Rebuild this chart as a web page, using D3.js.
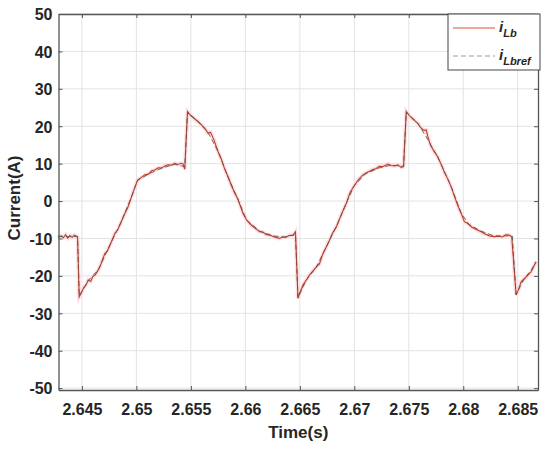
<!DOCTYPE html>
<html>
<head>
<meta charset="utf-8">
<script src="https://cdn.jsdelivr.net/npm/d3@7"></script>
<style>
  body { margin: 0; background: #fff; }
  svg text { font-family: "Liberation Sans", Arial, sans-serif; font-weight: bold; fill: #262626; }
</style>
</head>
<body>
<div id="chart"></div>
<script>
// measured inductor current i_Lb (s, A)
const timeLb = [
  2.6428, 2.6431, 2.6433, 2.6435, 2.6437, 2.6439, 2.6441, 2.6443, 2.6445, 2.6446,
  2.64475, 2.6450, 2.6452, 2.6454, 2.64558, 2.6458, 2.6460, 2.6462, 2.6465, 2.6467,
  2.6469, 2.64711, 2.6473, 2.6476, 2.64803, 2.6483, 2.6486, 2.64894, 2.6492, 2.64956,
  2.6498, 2.65011, 2.6504, 2.65078, 2.6511, 2.6514, 2.65169, 2.6520, 2.6523, 2.65261,
  2.6529, 2.6532, 2.65353, 2.6538, 2.6541, 2.65429, 2.65444, 2.65469, 2.6549, 2.6551,
  2.65567, 2.6560, 2.6563, 2.65658, 2.6568, 2.6571, 2.6573, 2.6575, 2.6578, 2.6581,
  2.65841, 2.6587, 2.65903, 2.6593, 2.65979, 2.6601, 2.6604, 2.6607, 2.6610, 2.66132,
  2.6616, 2.6619, 2.66224, 2.6625, 2.6628, 2.66315, 2.6634, 2.6637, 2.6640, 2.66437,
  2.6646, 2.66483, 2.6650, 2.6653, 2.6656, 2.6659, 2.66652, 2.6668, 2.6671, 2.66744,
  2.6677, 2.6680, 2.66835, 2.6686, 2.6689, 2.66927, 2.6696, 2.67003, 2.6704, 2.6708,
  2.6711, 2.6714, 2.6717, 2.67202, 2.6723, 2.6726, 2.67308, 2.6734, 2.6737, 2.6740,
  2.6743, 2.67452, 2.67477, 2.6750, 2.6753, 2.67583, 2.6761, 2.6764, 2.6766, 2.67675,
  2.6770, 2.6773, 2.67767, 2.6780, 2.6783, 2.6786, 2.67889, 2.6792, 2.6795, 2.67981,
  2.6801, 2.68042, 2.6808, 2.6812, 2.68164, 2.6820, 2.6824, 2.68287, 2.6832, 2.6836,
  2.6839, 2.68424, 2.68445, 2.68485, 2.6851, 2.68531, 2.6857, 2.6860, 2.68623, 2.6865,
  2.68668
];
const iLb = [
  -9.6, -9.3, -9.8, -9.0, -9.9, -9.2, -9.7, -9.1, -9.4, -9.6,
  -25.6, -24.2, -23.0, -22.3, -21.1, -21.5, -20.2, -19.8, -18.4, -17.2,
  -15.6, -14.0, -13.5, -11.6, -8.6, -7.6, -5.6, -3.3, -1.8, 1.2,
  3.2, 5.6, 6.2, 7.0, 7.2, 8.1, 8.3, 8.9, 8.8, 9.4,
  9.7, 9.6, 10.1, 9.8, 10.1, 9.9, 8.5, 23.9, 23.1, 22.6,
  21.2, 20.3, 19.4, 18.1, 18.4, 16.5, 14.8, 13.2, 11.2, 8.6,
  6.5, 4.3, 2.1, 0.6, -3.3, -5.0, -6.0, -6.8, -7.5, -8.2,
  -8.3, -8.9, -9.1, -9.4, -9.7, -10.0, -9.6, -9.7, -9.2, -9.1,
  -8.2, -26.0, -24.5, -22.4, -21.1, -19.7, -17.6, -16.8, -14.2, -12.2,
  -10.6, -8.6, -6.9, -5.1, -3.0, -0.6, 2.2, 4.3, 5.8, 7.0,
  7.6, 8.0, 8.4, 8.7, 9.3, 9.2, 9.9, 9.5, 9.4, 9.7,
  9.0, 9.2, 23.9, 23.0, 22.1, 20.8, 19.6, 18.9, 19.0, 17.2,
  14.9, 13.4, 11.8, 9.6, 7.5, 5.8, 3.8, 1.2, -1.2, -3.3,
  -5.5, -6.0, -7.0, -7.6, -8.2, -8.8, -9.3, -9.5, -9.4, -9.6,
  -9.0, -9.1, -9.6, -25.1, -23.4, -21.6, -20.5, -19.6, -18.9, -17.3,
  -16.2
];

// reference current i_Lbref (s, A)
const timeRef = [
  2.6428, 2.6446, 2.64475, 2.6456, 2.6465, 2.6476, 2.6486, 2.6495, 2.6501, 2.6511,
  2.6523, 2.6535, 2.65444, 2.65469, 2.6557, 2.6566, 2.6575, 2.6584, 2.6593, 2.6601,
  2.6613, 2.6625, 2.6636, 2.6646, 2.66483, 2.6656, 2.6665, 2.6675, 2.6684, 2.6693,
  2.6700, 2.6710, 2.6722, 2.6734, 2.67452, 2.67477, 2.6758, 2.6768, 2.6778, 2.6789,
  2.6798, 2.6805, 2.6816, 2.6828, 2.6842, 2.68450, 2.68485, 2.6856, 2.6862, 2.68668
];
const iLbref = [
  -9.5, -9.5, -25.4, -21.2, -18.4, -11.6, -5.6, 0.8, 5.5, 7.2,
  8.8, 9.8, 9.2, 23.8, 21.1, 18.2, 13.2, 6.5, 0.6, -5.0,
  -8.0, -9.3, -9.6, -9.0, -25.8, -21.1, -17.7, -11.8, -6.5, -0.3,
  4.1, 7.2, 8.8, 9.6, 9.3, 23.8, 20.9, 16.2, 10.9, 3.8,
  -3.2, -6.2, -8.0, -9.3, -9.3, -9.4, -25.0, -20.7, -18.6, -16.3
];

const yTicks = [50, 40, 30, 20, 10, 0, -10, -20, -30, -40, -50];
const xTicks = [2.645, 2.65, 2.655, 2.66, 2.665, 2.67, 2.675, 2.68, 2.685];
const xTickLabels = ['2.645', '2.65', '2.655', '2.66', '2.665', '2.67', '2.675', '2.68', '2.685'];

const W = 550, H = 450;
const plotL = 58.5, plotR = 538, plotT = 14, plotB = 390;

const svg = d3.select('#chart').append('svg')
  .attr('width', W).attr('height', H);

const x = d3.scaleLinear().domain([2.64285, 2.68686]).range([plotL, plotR]);
const y = d3.scaleLinear().domain([-50.5, 50]).range([plotB, plotT]);

// ── grid ────────────────────────────────────────────────────────────────
const grid = svg.append('g').attr('stroke', '#e3e3e3').attr('stroke-width', 1);
grid.selectAll('.gx').data(xTicks).join('line')
  .attr('x1', d => x(d)).attr('x2', d => x(d))
  .attr('y1', plotT).attr('y2', plotB);
grid.selectAll('.gy').data(yTicks).join('line')
  .attr('x1', plotL).attr('x2', plotR)
  .attr('y1', d => y(d)).attr('y2', d => y(d));

// ── curves ──────────────────────────────────────────────────────────────
const lineGen = d3.line().x(d => x(d[0])).y(d => y(d[1]));
const lbPts = timeLb.map((t, i) => [t, iLb[i]]);

// faint pink halo seen around the measured trace
svg.append('path')
  .datum(lbPts)
  .attr('fill', 'none')
  .attr('stroke', '#fbd3dc')
  .attr('stroke-width', 4)
  .attr('stroke-opacity', 0.7)
  .attr('d', lineGen);

svg.append('path')
  .datum(lbPts)
  .attr('fill', 'none')
  .attr('stroke', '#c63a22')
  .attr('stroke-width', 1.1)
  .attr('d', lineGen);

svg.append('path')
  .datum(timeRef.map((t, i) => [t, iLbref[i]]))
  .attr('fill', 'none')
  .attr('stroke', '#5c5a4c')
  .attr('stroke-width', 1)
  .attr('stroke-dasharray', '5,3')
  .attr('stroke-opacity', 0.9)
  .attr('d', lineGen);

// ── axes (box with inward ticks) ────────────────────────────────────────
const axisColor = '#555';
const xb = svg.append('g').attr('transform', `translate(0,${plotB})`)
  .call(d3.axisBottom(x).tickValues(xTicks).tickSizeInner(-4).tickSizeOuter(0)
    .tickFormat((d, i) => xTickLabels[i]));
const xt = svg.append('g').attr('transform', `translate(0,${plotT})`)
  .call(d3.axisTop(x).tickValues(xTicks).tickSizeInner(-4).tickSizeOuter(0).tickFormat(''));
const yl = svg.append('g').attr('transform', `translate(${plotL},0)`)
  .call(d3.axisLeft(y).tickValues(yTicks).tickSizeInner(-4).tickSizeOuter(0)
    .tickFormat(d => String(d)));
const yr = svg.append('g').attr('transform', `translate(${plotR},0)`)
  .call(d3.axisRight(y).tickValues(yTicks).tickSizeInner(-4).tickSizeOuter(0).tickFormat(''));

[xb, xt, yl, yr].forEach(a => {
  a.selectAll('path').attr('stroke', axisColor).attr('stroke-width', 1.3);
  a.selectAll('line').attr('stroke', axisColor);
  a.selectAll('text').attr('font-size', 16).attr('font-family', null).attr('fill', '#262626');
});
xb.selectAll('text').attr('dy', null).attr('y', 25);
yl.selectAll('text').attr('x', -6).attr('dy', '0.36em');

// ── axis titles ─────────────────────────────────────────────────────────
svg.append('text')
  .attr('x', (plotL + plotR) / 2).attr('y', 438)
  .attr('text-anchor', 'middle').attr('font-size', 17)
  .text('Time(s)');

svg.append('text')
  .attr('transform', 'translate(20,198) rotate(-90)')
  .attr('text-anchor', 'middle').attr('font-size', 17)
  .text('Current(A)');

// ── legend ──────────────────────────────────────────────────────────────
const lg = svg.append('g');
lg.append('rect')
  .attr('x', 448).attr('y', 14).attr('width', 92).attr('height', 56)
  .attr('fill', '#fff').attr('stroke', '#444').attr('stroke-width', 1);

const legendItems = [
  { sub: 'Lb', color: '#e0502c', dash: null, y: 28 },
  { sub: 'Lbref', color: '#9a9a9a', dash: '5,3', y: 56 },
];
legendItems.forEach(it => {
  lg.append('line')
    .attr('x1', 453).attr('x2', 495).attr('y1', it.y).attr('y2', it.y)
    .attr('stroke', it.color).attr('stroke-width', 1)
    .attr('stroke-dasharray', it.dash);
  const t = lg.append('text').attr('x', 499).attr('y', it.y + 4)
    .attr('font-size', 15).attr('font-style', 'italic');
  t.append('tspan').text('i');
  t.append('tspan').attr('dy', 5).attr('font-size', 11).text(it.sub);
});
</script>
</body>
</html>
